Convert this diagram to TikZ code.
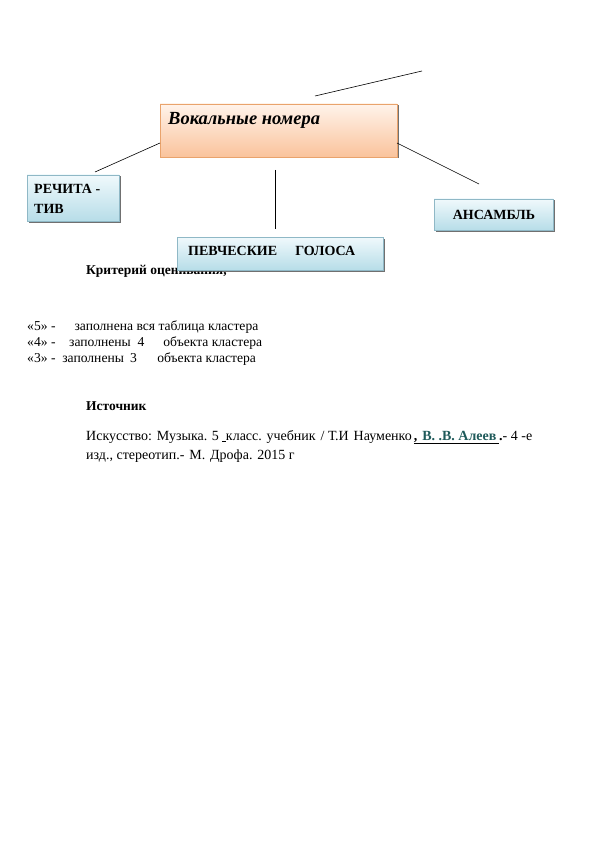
\documentclass[tikz,border=0pt]{standalone}
\usepackage{fontspec}
\setmainfont{Liberation Serif}
\usetikzlibrary{shadows}
\definecolor{obord}{HTML}{E9A36C}
\definecolor{otop}{HTML}{FFF3EA}
\definecolor{obot}{HTML}{FAC39C}
\definecolor{bbord}{HTML}{8FB8C6}
\definecolor{btop}{HTML}{F0F9FC}
\definecolor{bbot}{HTML}{B7DDE8}
\definecolor{linkc}{HTML}{1F5A5A}
\tikzset{
  obox/.style={draw=obord, line width=0.8pt, top color=otop, bottom color=obot,
    drop shadow={shadow xshift=1.5pt, shadow yshift=-1.5pt, fill=black!70, opacity=0.8}},
  bbox/.style={draw=bbord, line width=0.8pt, top color=btop, bottom color=bbot,
    drop shadow={shadow xshift=1.5pt, shadow yshift=-1.5pt, fill=black!70, opacity=0.8}},
  conn/.style={draw=black, line width=0.6pt},
  txt/.style={anchor=base west, inner sep=0pt, font=\fontsize{13.6}{15}\selectfont},
  ctxt/.style={anchor=base west, inner sep=0pt, font=\fontsize{14}{16}\selectfont},
  btxt/.style={anchor=base west, inner sep=0pt, font=\fontsize{14}{16}\selectfont\bfseries},
}
\begin{document}
\begin{tikzpicture}[x=1pt,y=-1pt]
\useasboundingbox (0,0) rectangle (595,842);
% heading partly hidden under the singers box
\node[txt, font=\fontsize{13.5}{15}\selectfont\bfseries] (crit) at (86,274) {Критерий оценивания,};
% boxes
\path[obox] (160,104) rectangle (397,157);
\node[anchor=base west, inner sep=0pt, font=\fontsize{18.5}{20}\selectfont\bfseries\itshape] (voc) at (168,125) {Вокальные номера};
\path[bbox] (27,175) rectangle (119,221);
\node[btxt] (rec1) at (34,194) {РЕЧИТА -};
\node[btxt] (rec2) at (34,214) {ТИВ};
\path[bbox] (434,199) rectangle (553,230);
\node[font=\fontsize{14}{16}\selectfont\bfseries] (ans) at (494,214.5) {АНСАМБЛЬ};
\path[bbox] (177,237) rectangle (383,270);
\node[btxt] (pev) at (188,255) {ПЕВЧЕСКИЕ\hspace{1.3em}ГОЛОСА};
% connector endpoints
\coordinate (a1) at (315,96);
\coordinate (a2) at (422,71);
\coordinate (l1) at (160,143);
\coordinate (l2) at (95,172);
\coordinate (r1) at (397,143);
\coordinate (r2) at (479,184);
\coordinate (m1) at (275,170);
\coordinate (m2) at (275,229);
\draw[conn] (a1) -- (a2);
\draw[conn] (l1) -- (l2);
\draw[conn] (r1) -- (r2);
\draw[conn] (m1) -- (m2);
% criteria
\node[txt] (g5) at (27,330) {«5» -\hspace{1.4em}заполнена вся таблица кластера};
\node[txt] (g4) at (27,346) {«4» -\hspace{1.0em}заполнены\hspace{0.5em}4\hspace{1.4em}объекта кластера};
\node[txt] (g3) at (27,362) {«3» -\hspace{0.5em}заполнены\hspace{0.45em}3\hspace{1.5em}объекта кластера};
% source
\node[txt, font=\fontsize{13.5}{15}\selectfont\bfseries] (src) at (86,410) {Источник};
\node[ctxt] (cit1) at (86,440) {Искусство:\hspace{0.35em}Музыка. 5 \underline{ }класс. учебник\hspace{0.35em}/ Т.И\hspace{0.35em}Науменко\hspace{0.15em}\textbf{\underline{,\hspace{0.35em}\textcolor{linkc}{В. .В. Алеев}\hspace{0.2em}}}\textbf{.}- 4 -е};
\node[ctxt] (cit2) at (86,459) {изд., стереотип.-\hspace{0.35em}М.\hspace{0.35em}Дрофа.\hspace{0.35em}2015 г};
\end{tikzpicture}
\end{document}
